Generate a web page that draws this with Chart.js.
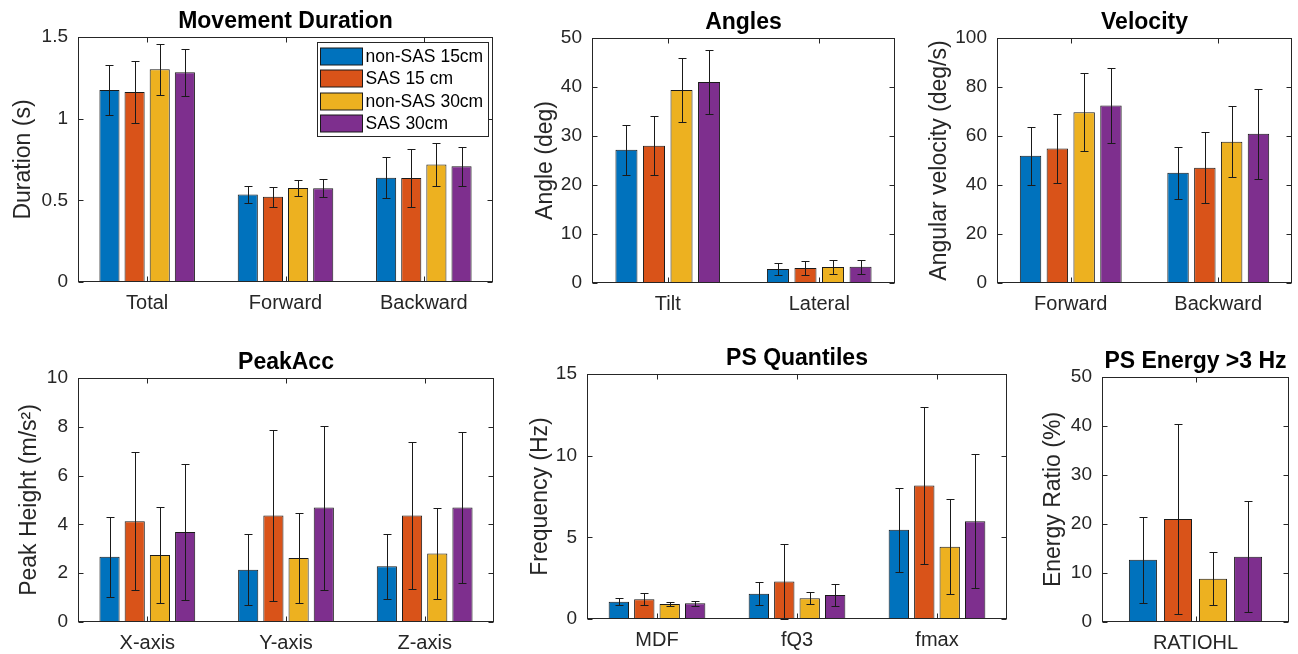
<!DOCTYPE html>
<html>
<head>
<meta charset="utf-8">
<script src="https://cdn.jsdelivr.net/npm/chart.js@4.4.1/dist/chart.umd.min.js"></script>
<style>
  html, body { margin: 0; padding: 0; background: #fff; }
  #page { position: relative; width: 1298px; height: 654px; overflow: hidden; background: #fff; }
  .panel { position: absolute; }
</style>
</head>
<body>
<div id="page">
  <div class="panel"><canvas id="durCanvas"></canvas></div>
  <div class="panel"><canvas id="angCanvas"></canvas></div>
  <div class="panel"><canvas id="velCanvas"></canvas></div>
  <div class="panel"><canvas id="accCanvas"></canvas></div>
  <div class="panel"><canvas id="psqCanvas"></canvas></div>
  <div class="panel"><canvas id="engCanvas"></canvas></div>
</div>
<script>
// Séries (même ordre dans tous les panneaux)
var seriesNames = ["non-SAS 15cm", "SAS 15 cm", "non-SAS 30cm", "SAS 30cm"];

// Movement Duration
var durCats = ["Total", "Forward", "Backward"];
var durMean = [[1.175, 0.535, 0.639], [1.163, 0.522, 0.637], [1.302, 0.576, 0.720], [1.284, 0.574, 0.708]];
var durErr = [[0.155, 0.050, 0.125], [0.187, 0.060, 0.175], [0.155, 0.050, 0.130], [0.144, 0.055, 0.120]];
var durTicks = [0, 0.5, 1, 1.5];

// Angles
var angCats = ["Tilt", "Lateral"];
var angMean = [[27.2, 2.86], [28.0, 3.06], [39.4, 3.27], [41.0, 3.33]];
var angErr = [[5.1, 1.15], [6.0, 1.5], [6.6, 1.4], [6.6, 1.4]];
var angTicks = [0, 10, 20, 30, 40, 50];

// Velocity
var velCats = ["Forward", "Backward"];
var velMean = [[51.9, 45.0], [54.9, 47.0], [69.7, 57.7], [72.4, 60.9]];
var velErr = [[11.7, 10.6], [14.0, 14.5], [15.9, 14.4], [15.4, 18.3]];
var velTicks = [0, 20, 40, 60, 80, 100];

// PeakAcc
var accCats = ["X-axis", "Y-axis", "Z-axis"];
var accMean = [[2.67, 2.14, 2.28], [4.13, 4.36, 4.36], [2.75, 2.62, 2.81], [3.69, 4.69, 4.69]];
var accErr = [[1.64, 1.45, 1.32], [2.83, 3.50, 3.02], [1.98, 1.84, 1.85], [2.77, 3.36, 3.08]];
var accTicks = [0, 2, 4, 6, 8, 10];

// PS Quantiles
var psqCats = ["MDF", "fQ3", "fmax"];
var psqMean = [[1.06, 1.55, 5.46], [1.21, 2.29, 8.17], [0.92, 1.27, 4.43], [0.96, 1.47, 5.99]];
var psqErr = [[0.22, 0.70, 2.57], [0.38, 2.29, 4.83], [0.14, 0.37, 2.92], [0.16, 0.70, 4.10]];
var psqTicks = [0, 5, 10, 15];

// PS Energy >3 Hz
var engCats = ["RATIOHL"];
var engMean = [[12.7], [21.0], [8.84], [13.3]];
var engErr = [[8.8], [19.4], [5.4], [11.3]];
var engTicks = [0, 10, 20, 30, 40, 50];

// Style
var seriesColors = ["#0072BD", "#D95319", "#EDB120", "#7E2F8E"];
var axisColor = "#262626";
var fontFamily = "'Liberation Sans', Arial, Helvetica, sans-serif";
Chart.defaults.font.family = fontFamily;
Chart.defaults.color = axisColor;

// Zones de tracé (coordonnées page)
var boxes = {
  dur: {l: 78, t: 37, r: 493, b: 282, yw: 73},
  ang: {l: 592, t: 38, r: 895, b: 283, yw: 65},
  vel: {l: 997, t: 38, r: 1292, b: 283, yw: 76},
  acc: {l: 78, t: 378, r: 494, b: 622, yw: 67},
  psq: {l: 587, t: 374, r: 1007, b: 619, yw: 65},
  eng: {l: 1102, t: 377, r: 1289, b: 622, yw: 67}
};

// Barres d'erreur
var errorBars = {
  id: "errorBars",
  afterDatasetsDraw: function(chart) {
    var ctx = chart.ctx;
    var ys = chart.scales.y;
    ctx.save();
    ctx.strokeStyle = "#1a1a1a";
    ctx.lineWidth = 1;
    chart.data.datasets.forEach(function(ds, i) {
      var meta = chart.getDatasetMeta(i);
      meta.data.forEach(function(bar, j) {
        var v = ds.data[j], e = ds.errors[j];
        var x = Math.round(bar.x) + 0.5;
        var yHi = Math.round(ys.getPixelForValue(v + e)) + 0.5;
        var yLo = Math.round(ys.getPixelForValue(v - e)) + 0.5;
        ctx.beginPath();
        ctx.moveTo(x, yHi); ctx.lineTo(x, yLo);
        ctx.moveTo(x - 4, yHi); ctx.lineTo(x + 4, yHi);
        ctx.moveTo(x - 4, yLo); ctx.lineTo(x + 4, yLo);
        ctx.stroke();
      });
    });
    ctx.restore();
  }
};

// Cadre + graduations vers l'intérieur
var matlabBox = {
  id: "matlabBox",
  afterDraw: function(chart) {
    var ctx = chart.ctx, a = chart.chartArea;
    var xs = chart.scales.x, ys = chart.scales.y;
    var L = Math.round(a.left) + 0.5, R = Math.round(a.right) - 0.5;
    var T = Math.round(a.top) + 0.5, B = Math.round(a.bottom) - 0.5;
    ctx.save();
    ctx.strokeStyle = axisColor;
    ctx.lineWidth = 1;
    ctx.strokeRect(L, T, R - L, B - T);
    ctx.beginPath();
    ys.ticks.forEach(function(t) {
      var y = Math.round(ys.getPixelForValue(t.value)) + 0.5;
      ctx.moveTo(L, y); ctx.lineTo(L + 5, y);
      ctx.moveTo(R, y); ctx.lineTo(R - 5, y);
    });
    chart.data.labels.forEach(function(lab, i) {
      var x = Math.round(xs.getPixelForValue(i)) + 0.5;
      ctx.moveTo(x, B); ctx.lineTo(x, B - 5);
      ctx.moveTo(x, T); ctx.lineTo(x, T + 5);
    });
    ctx.stroke();
    ctx.restore();
  }
};

// Légende encadrée (premier panneau)
var boxLegend = {
  id: "boxLegend",
  afterDraw: function(chart) {
    var ctx = chart.ctx, a = chart.chartArea;
    var left = Math.round(a.right - 176) + 0.5, top = Math.round(a.top + 5) + 0.5;
    ctx.save();
    ctx.fillStyle = "#fff";
    ctx.fillRect(left, top, 171, 94);
    ctx.strokeStyle = axisColor;
    ctx.lineWidth = 1;
    ctx.strokeRect(left, top, 171, 94);
    ctx.font = "17.5px " + fontFamily;
    ctx.textBaseline = "middle";
    ctx.textAlign = "left";
    chart.data.datasets.forEach(function(ds, i) {
      var y = Math.round(top + 5 + i * 22.6);
      ctx.fillStyle = ds.backgroundColor;
      ctx.fillRect(left + 3, y, 42, 17);
      ctx.strokeStyle = "#1a1a1a";
      ctx.strokeRect(left + 3, y, 42, 17);
      ctx.fillStyle = "#000";
      ctx.fillText(ds.label, left + 48, y + 9);
    });
    ctx.restore();
  }
};

function makePanel(canvasId, box, title, yTitle, cats, means, errs, ticks, catPct, withLegend) {
  var th = 37, xh = 32, rp = 6;
  var div = document.getElementById(canvasId).parentNode;
  div.style.left = (box.l - box.yw) + "px";
  div.style.top = (box.t - th) + "px";
  div.style.width = (box.yw + box.r - box.l + rp) + "px";
  div.style.height = (th + box.b - box.t + xh) + "px";

  var datasets = [];
  for (var i = 0; i < seriesNames.length; i++) {
    datasets.push({
      label: seriesNames[i],
      data: means[i],
      errors: errs[i],
      backgroundColor: seriesColors[i],
      borderColor: "#1a1a1a",
      borderWidth: 1,
      categoryPercentage: catPct,
      barPercentage: 0.8
    });
  }

  var plugins = [errorBars, matlabBox];
  if (withLegend) plugins.push(boxLegend);

  return new Chart(document.getElementById(canvasId), {
    type: "bar",
    data: { labels: cats, datasets: datasets },
    plugins: plugins,
    options: {
      responsive: true,
      maintainAspectRatio: false,
      animation: false,
      events: [],
      layout: { padding: { left: 0, top: 0, right: rp, bottom: 0 } },
      scales: {
        x: {
          grid: { display: false, drawTicks: false },
          border: { display: false },
          ticks: { font: { size: 20 }, color: axisColor, padding: 9, maxRotation: 0, autoSkip: false },
          afterFit: function(s) { s.height = xh; }
        },
        y: {
          min: ticks[0],
          max: ticks[ticks.length - 1],
          grid: { display: false, drawTicks: false },
          border: { display: false },
          ticks: {
            stepSize: ticks[1] - ticks[0],
            font: { size: 19 },
            color: axisColor,
            padding: 10,
            callback: function(v) { return String(v); }
          },
          title: { display: true, text: yTitle, font: { size: 23 }, color: axisColor, padding: { top: 5, bottom: 0 } },
          afterFit: function(s) { s.width = box.yw; }
        }
      },
      plugins: {
        legend: { display: false },
        tooltip: { enabled: false },
        title: {
          display: true,
          text: title,
          fullSize: false,
          color: "#000",
          font: { size: 23, weight: "bold" },
          padding: { top: 7.5, bottom: 1.9 }
        }
      }
    }
  });
}

makePanel("durCanvas", boxes.dur, "Movement Duration", "Duration (s)", durCats, durMean, durErr, durTicks, 0.727, true);
makePanel("angCanvas", boxes.ang, "Angles", "Angle (deg)", angCats, angMean, angErr, angTicks, 0.727, false);
makePanel("velCanvas", boxes.vel, "Velocity", "Angular velocity (deg/s)", velCats, velMean, velErr, velTicks, 0.727, false);
makePanel("accCanvas", boxes.acc, "PeakAcc", "Peak Height (m/s²)", accCats, accMean, accErr, accTicks, 0.727, false);
makePanel("psqCanvas", boxes.psq, "PS Quantiles", "Frequency (Hz)", psqCats, psqMean, psqErr, psqTicks, 0.727, false);
makePanel("engCanvas", boxes.eng, "PS Energy >3 Hz", "Energy Ratio (%)", engCats, engMean, engErr, engTicks, 0.75, false);
</script>
</body>
</html>
